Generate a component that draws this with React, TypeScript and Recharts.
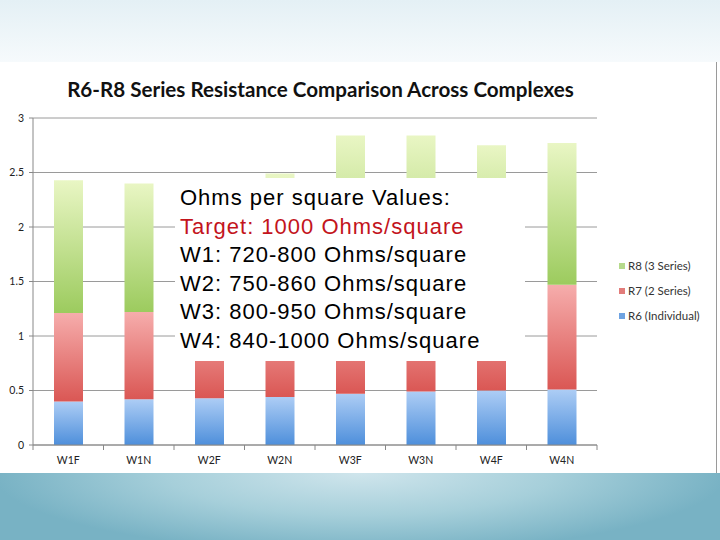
import { Bar, BarChart, CartesianGrid, Legend, XAxis, YAxis } from "recharts"

const categories = ["W1F", "W1N", "W2F", "W2N", "W3F", "W3N", "W4F", "W4N"]
// stacked pieces: R6 bottom, R7 middle, R8 top
const r6Individual = [0.4, 0.42, 0.43, 0.44, 0.47, 0.49, 0.5, 0.51]
const r7TwoSeries = [0.81, 0.8, 0.83, 0.85, 0.86, 0.87, 0.9, 0.96]
const r8ThreeSeries = [1.22, 1.18, 1.19, 1.2, 1.51, 1.48, 1.35, 1.3]
const yTicks = [0, 0.5, 1, 1.5, 2, 2.5, 3]

const legendItems = [
  { label: "R8 (3 Series)", color: "#b6da8c" },
  { label: "R7 (2 Series)", color: "#e27c7a" },
  { label: "R6 (Individual)", color: "#6ea3e2" },
]

const noteLines = [
  { text: "Ohms per square Values:", color: "#000" },
  { text: "Target: 1000 Ohms/square", color: "#c3141c" },
  { text: "W1: 720-800 Ohms/square", color: "#000" },
  { text: "W2: 750-860 Ohms/square", color: "#000" },
  { text: "W3: 800-950 Ohms/square", color: "#000" },
  { text: "W4: 840-1000 Ohms/square", color: "#000" },
]

const data = categories.map((name, i) => ({
  name,
  r6: r6Individual[i],
  r7: r7TwoSeries[i],
  r8: r8ThreeSeries[i],
}))

const labelFont = "Lato, 'Open Sans', sans-serif"

function XTick({ x, y, payload, index }: any) {
  const half = payload?.offset ?? 35.25
  return (
    <g>
      <line x1={x - half} x2={x - half} y1={y - 8} y2={y - 3} stroke="#888" />
      {index === categories.length - 1 && (
        <line x1={x + half} x2={x + half} y1={y - 8} y2={y - 3} stroke="#888" />
      )}
      <text x={x} y={y + 11} textAnchor="middle" fontSize={10.5} fill="#222" fontFamily={labelFont}>
        {payload.value}
      </text>
    </g>
  )
}

function LegendBox() {
  return (
    <div style={{ fontFamily: labelFont, fontSize: 11.5, color: "#333" }}>
      {legendItems.map((it) => (
        <div key={it.label} style={{ display: "flex", alignItems: "center", height: 25 }}>
          <span style={{ width: 6, height: 6, background: it.color, marginRight: 3 }} />
          {it.label}
        </div>
      ))}
    </div>
  )
}

export default function App() {
  return (
    <div style={{ position: "absolute", left: 0, top: 0, width: 720, height: 540, overflow: "hidden", background: "#fff" }}>
      <div style={{ position: "absolute", left: 0, top: 0, width: 720, height: 62, background: "linear-gradient(#e4f0f5, #f6fafc)" }} />
      <div
        style={{
          position: "absolute",
          left: 0,
          top: 473,
          width: 720,
          height: 67,
          background: "radial-gradient(ellipse 60% 140% at 50% 0%, #cfe5ec 0%, #a6cfda 45%, #78b2c4 85%)",
        }}
      />
      <div style={{ position: "absolute", left: 0, top: 62, width: 716, height: 411, background: "#fff", borderRight: "1px solid #9a9a9a" }} />
      <div
        style={{
          position: "absolute",
          left: 0,
          top: 77,
          width: 641,
          textAlign: "center",
          fontFamily: labelFont,
          fontWeight: 700,
          fontSize: 20.6,
          color: "#111",
        }}
      >
        R6-R8 Series Resistance Comparison Across Complexes
      </div>
      <div style={{ position: "absolute", left: 0, top: 0 }}>
        <BarChart width={720} height={540} data={data} margin={{ top: 118, right: 123, bottom: 65, left: 0 }} barSize={29}>
          <defs>
            <linearGradient id="gBlue" x1="0" y1="0" x2="0" y2="1">
              <stop offset="0%" stopColor="#adcdf5" />
              <stop offset="100%" stopColor="#4e8fdb" />
            </linearGradient>
            <linearGradient id="gRed" x1="0" y1="0" x2="0" y2="1">
              <stop offset="0%" stopColor="#f6adac" />
              <stop offset="100%" stopColor="#da5754" />
            </linearGradient>
            <linearGradient id="gGreen" x1="0" y1="0" x2="0" y2="1">
              <stop offset="0%" stopColor="#e9f6c4" />
              <stop offset="100%" stopColor="#9ccb5e" />
            </linearGradient>
          </defs>
          <CartesianGrid vertical={false} stroke="#9a9a9a" />
          <XAxis
            dataKey="name"
            axisLine={{ stroke: "#888" }}
            tickLine={false}
            tick={<XTick />}
            height={30}
            interval={0}
          />
          <YAxis
            domain={[0, 3]}
            ticks={yTicks}
            width={33}
            tickSize={4}
            tickMargin={5}
            axisLine={{ stroke: "#888" }}
            tickLine={{ stroke: "#888" }}
            tick={{ fontSize: 10.5, fill: "#222", fontFamily: labelFont }}
          />
          <Legend
            layout="vertical"
            align="center"
            verticalAlign="middle"
            content={<LegendBox />}
            wrapperStyle={{ left: 619, top: 253, width: 100 }}
          />
          <Bar dataKey="r6" stackId="s" fill="url(#gBlue)" isAnimationActive={false} />
          <Bar dataKey="r7" stackId="s" fill="url(#gRed)" isAnimationActive={false} />
          <Bar dataKey="r8" stackId="s" fill="url(#gGreen)" isAnimationActive={false} />
        </BarChart>
      </div>
      <div
        style={{
          position: "absolute",
          left: 175,
          top: 178,
          width: 350,
          height: 183,
          background: "#fff",
          boxSizing: "border-box",
          padding: "6px 0 0 5px",
          fontFamily: "'Liberation Sans', Arial, sans-serif",
          fontSize: 22,
          lineHeight: "28.5px",
          letterSpacing: 1,
          whiteSpace: "nowrap",
        }}
      >
        {noteLines.map((l) => (
          <div key={l.text} style={{ color: l.color }}>
            {l.text}
          </div>
        ))}
      </div>
    </div>
  )
}
